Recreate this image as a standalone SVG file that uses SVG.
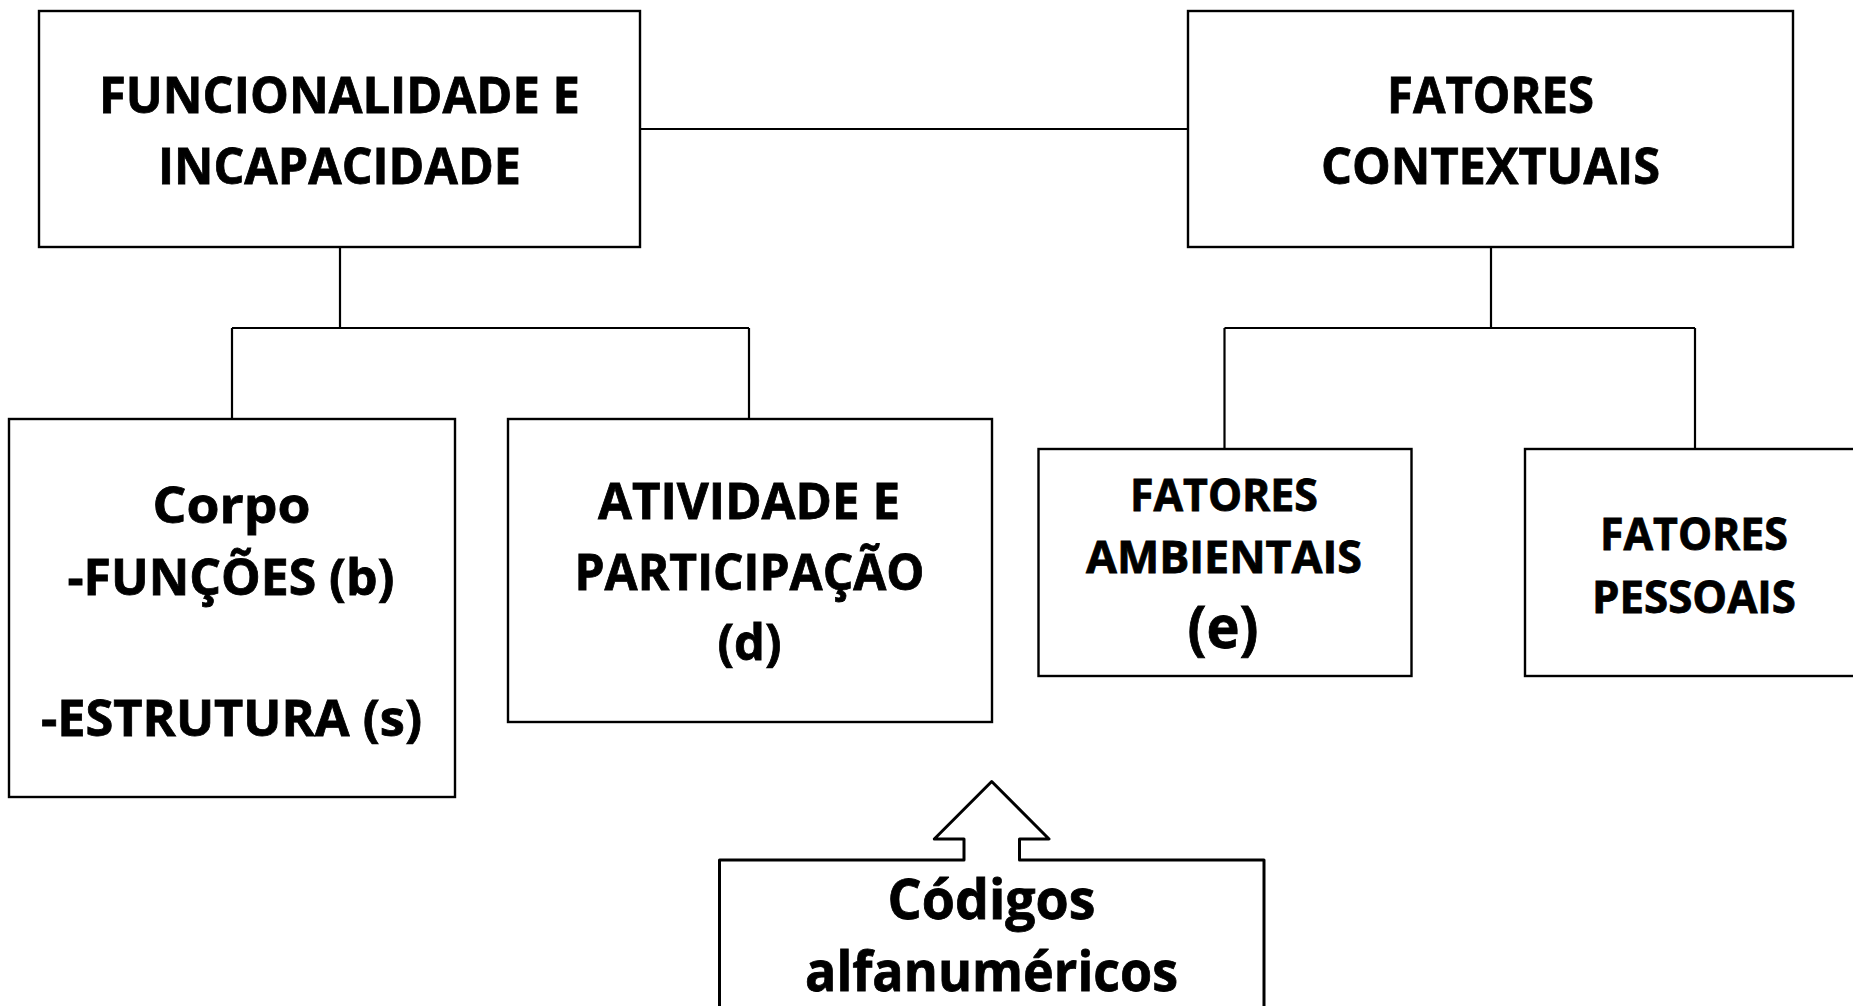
<svg xmlns="http://www.w3.org/2000/svg" width="1853" height="1006" viewBox="0 0 1853 1006">
<style>
.box{fill:#fff;stroke:#000;stroke-width:2.4}
.conn{fill:none;stroke:#000;stroke-width:2.2}
.callout{fill:#fff;stroke:#000;stroke-width:3;stroke-linejoin:round}
text{font-family:"Open Sans","Liberation Sans",sans-serif;font-weight:700;fill:#000;stroke:#000;stroke-width:0.8;text-anchor:middle}
.tl{font-size:51px}
.tm{font-size:45px}
.te{font-size:59px}
.tb{font-size:56px}
</style>
<rect width="1853" height="1006" fill="#fff"/>
<g id="connectors">
<path class="conn" d="M640 129H1188"/>
<path class="conn" d="M340 247V328M232 328H749M232 328V419M749 328V419"/>
<path class="conn" d="M1491 247V328M1224.5 328H1695M1224.5 328V449M1695 328V449"/>
</g>
<g id="funcionalidade">
<rect class="box" x="39" y="11" width="601" height="236"/>
<text class="tl" x="339.5" y="113" textLength="481" lengthAdjust="spacingAndGlyphs">FUNCIONALIDADE E</text>
<text class="tl" x="339.5" y="184" textLength="363" lengthAdjust="spacingAndGlyphs">INCAPACIDADE</text>
</g>
<g id="fatores-contextuais">
<rect class="box" x="1188" y="11" width="605" height="236"/>
<text class="tl" x="1490.5" y="113" textLength="207" lengthAdjust="spacingAndGlyphs">FATORES</text>
<text class="tl" x="1490.5" y="184" textLength="339" lengthAdjust="spacingAndGlyphs">CONTEXTUAIS</text>
</g>
<g id="corpo">
<rect class="box" x="9" y="419" width="446" height="378"/>
<text class="tl" x="231.5" y="523" textLength="158" lengthAdjust="spacingAndGlyphs">Corpo</text>
<text class="tl" x="231" y="595" textLength="327" lengthAdjust="spacingAndGlyphs">-FUNÇÕES (b)</text>
<text class="tl" x="231.5" y="736" textLength="381" lengthAdjust="spacingAndGlyphs">-ESTRUTURA (s)</text>
</g>
<g id="atividade">
<rect class="box" x="508" y="419" width="484" height="303"/>
<text class="tl" x="749" y="519" textLength="302" lengthAdjust="spacingAndGlyphs">ATIVIDADE E</text>
<text class="tl" x="749.5" y="590" textLength="350" lengthAdjust="spacingAndGlyphs">PARTICIPAÇÃO</text>
<text class="tl" x="749.5" y="660" textLength="64" lengthAdjust="spacingAndGlyphs">(d)</text>
</g>
<g id="ambientais">
<rect class="box" x="1038.5" y="449" width="373" height="227"/>
<text class="tm" x="1224" y="511" textLength="188" lengthAdjust="spacingAndGlyphs">FATORES</text>
<text class="tm" x="1224" y="573" textLength="276" lengthAdjust="spacingAndGlyphs">AMBIENTAIS</text>
<text class="te" x="1223" y="648" textLength="71" lengthAdjust="spacingAndGlyphs">(e)</text>
</g>
<g id="pessoais">
<rect class="box" x="1525" y="449" width="345" height="227"/>
<text class="tm" x="1694" y="550" textLength="188" lengthAdjust="spacingAndGlyphs">FATORES</text>
<text class="tm" x="1694" y="613" textLength="204" lengthAdjust="spacingAndGlyphs">PESSOAIS</text>
</g>
<g id="codigos">
<path class="callout" d="M719.5 1030V860H964V839H934.3L991.7 781.5L1049 839H1019.5V860H1264V1030"/>
<text class="tb" x="991.5" y="919" textLength="208" lengthAdjust="spacingAndGlyphs">Códigos</text>
<text class="tb" x="991.5" y="991" textLength="373" lengthAdjust="spacingAndGlyphs">alfanuméricos</text>
</g>
</svg>
